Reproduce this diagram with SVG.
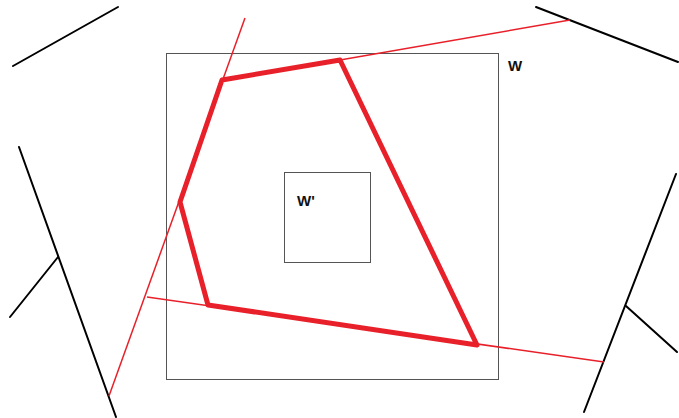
<svg xmlns="http://www.w3.org/2000/svg" width="679" height="418" viewBox="0 0 679 418">
<style>
.box{fill:none;stroke:#555;stroke-width:1}
.blk{stroke:#000;stroke-width:2;fill:none;stroke-linecap:round}
.thin{stroke:#e8202a;stroke-width:1.5;fill:none}
.thick{stroke:#e8202a;stroke-width:5;fill:none;stroke-linejoin:round}
.lbl{font-family:"Liberation Sans",Arial,sans-serif;font-weight:bold;font-size:15px;fill:#111}
</style>
<rect width="679" height="418" fill="#fff"/>
<g id="W">
<rect class="box" x="166.5" y="53.5" width="332" height="326"/>
<text class="lbl" x="508" y="71">W</text>
</g>
<g id="Wprime">
<rect class="box" x="284.5" y="172.5" width="86" height="90"/>
<text class="lbl" x="297" y="206">W'</text>
</g>
<g id="boundaries">
<line class="blk" x1="13" y1="66" x2="118" y2="7"/>
<line class="blk" x1="536" y1="7" x2="678" y2="62"/>
<line class="blk" x1="19" y1="147" x2="116" y2="417"/>
<line class="blk" x1="58" y1="257" x2="10" y2="317"/>
<line class="blk" x1="676" y1="174" x2="584" y2="412"/>
<line class="blk" x1="626" y1="306" x2="677" y2="352"/>
</g>
<g id="connectors">
<line class="thin" x1="245" y1="18" x2="109" y2="396"/>
<line class="thin" x1="340" y1="60" x2="570" y2="20"/>
<line class="thin" x1="147" y1="297" x2="604" y2="362"/>
<polygon class="thick" points="222,80 340,60 477,345 208,305 180,202"/>
</g>
</svg>
